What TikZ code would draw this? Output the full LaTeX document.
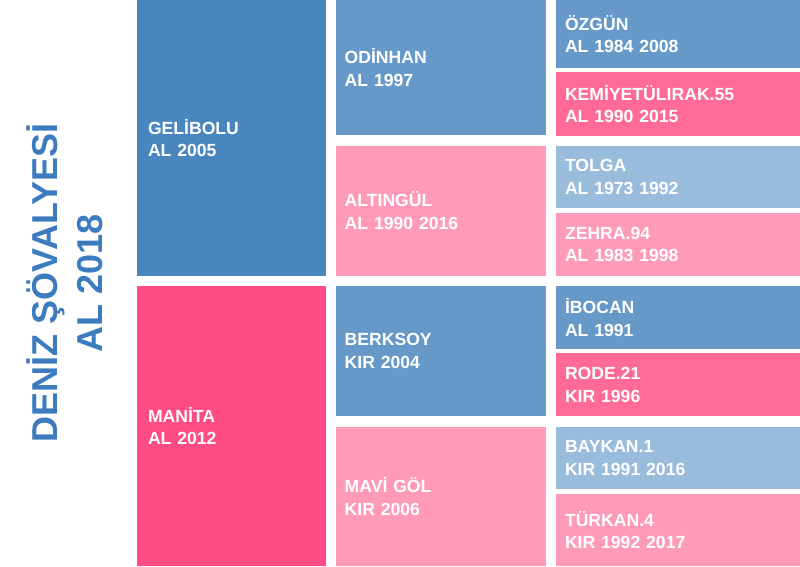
\documentclass[tikz,border=0pt]{standalone}
\usepackage{fontspec}
\setmainfont{Liberation Sans}
\definecolor{blueD}{HTML}{4A86BE}
\definecolor{blueM}{HTML}{6699C8}
\definecolor{blueL}{HTML}{99BBDC}
\definecolor{pinkD}{HTML}{FF4C82}
\definecolor{pinkM}{HTML}{FF6A96}
\definecolor{pinkL}{HTML}{FF9AB8}
\definecolor{titleblue}{HTML}{3B7BBE}

\begin{document}
\begin{tikzpicture}[x=1pt,y=-1pt,
 box/.style={anchor=north west,outer sep=0pt,inner ysep=0pt,align=left,text=white,
  font=\fontsize{17.6}{22.7}\selectfont\bfseries},
 colA/.style={box,inner xsep=11pt,minimum width=188.7pt,text width=166.7pt},
 colB/.style={box,inner xsep=9pt,minimum width=210.6pt,text width=192.6pt},
 colC/.style={box,inner xsep=9pt,minimum width=244pt,text width=226pt},
 ttl/.style={text=titleblue,align=center,rotate=90,font=\fontsize{36}{45.5}\selectfont\bfseries}]
\useasboundingbox (0,0) rectangle (800,566);
% left title
\node[ttl] (title) at (65,283) {DENİZ ŞÖVALYESİ\\AL 2018};
% first column
\node[colA,fill=blueD,minimum height=276pt] (gelibolu) at (137,0) {GELİBOLU\\AL 2005};
\node[colA,fill=pinkD,minimum height=280pt] (manita) at (137,286) {MANİTA\\AL 2012};
% second column
\node[colB,fill=blueM,minimum height=135pt] (odinhan) at (335.7,0) {ODİNHAN\\AL 1997};
\node[colB,fill=pinkL,minimum height=130.3pt] (altingul) at (335.7,145.7) {ALTINGÜL\\AL 1990 2016};
\node[colB,fill=blueM,minimum height=130.3pt] (berksoy) at (335.7,285.7) {BERKSOY\\KIR 2004};
\node[colB,fill=pinkL,minimum height=139.3pt] (mavigol) at (335.7,426.7) {MAVİ GÖL\\KIR 2006};
% third column
\node[colC,fill=blueM,minimum height=68pt] (ozgun) at (556,0) {ÖZGÜN\\AL 1984 2008};
\node[colC,fill=pinkM,minimum height=63.3pt] (kemiyet) at (556,72.3) {KEMİYETÜLIRAK.55\\AL 1990 2015};
\node[colC,fill=blueL,minimum height=62.6pt] (tolga) at (556,145.7) {TOLGA\\AL 1973 1992};
\node[colC,fill=pinkL,minimum height=63.3pt] (zehra) at (556,212.7) {ZEHRA.94\\AL 1983 1998};
\node[colC,fill=blueM,minimum height=63.3pt] (ibocan) at (556,285.7) {İBOCAN\\AL 1991};
\node[colC,fill=pinkM,minimum height=62.7pt] (rode) at (556,353.3) {RODE.21\\KIR 1996};
\node[colC,fill=blueL,minimum height=62.6pt] (baykan) at (556,426.7) {BAYKAN.1\\KIR 1991 2016};
\node[colC,fill=pinkL,minimum height=72pt] (turkan) at (556,494) {TÜRKAN.4\\KIR 1992 2017};
\end{tikzpicture}
\end{document}
